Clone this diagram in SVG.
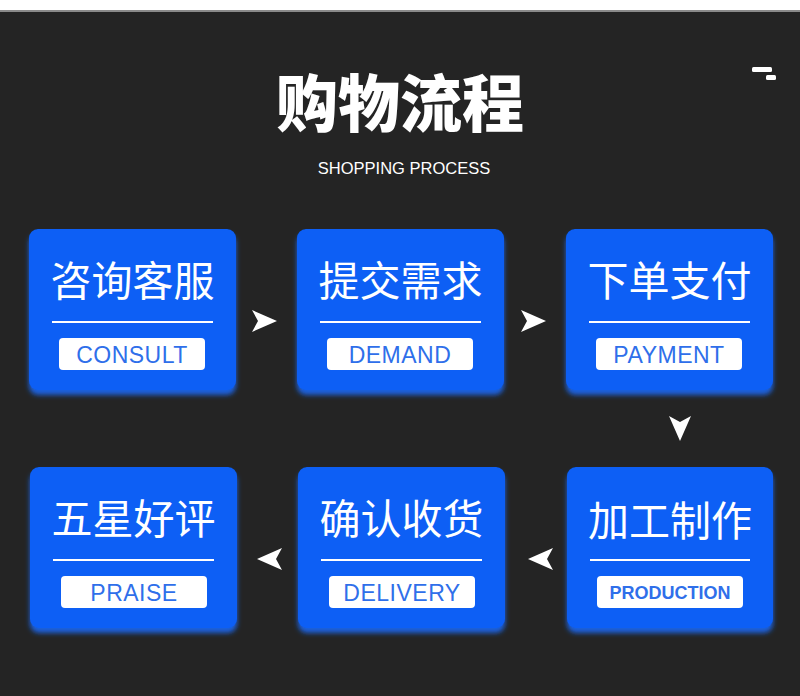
<svg xmlns="http://www.w3.org/2000/svg" width="800" height="696" viewBox="0 0 800 696">
  <defs>
    <filter id="glow" x="-10%" y="-10%" width="120%" height="130%">
      <feGaussianBlur in="SourceAlpha" stdDeviation="2.5"/>
      <feOffset dy="5" result="b"/>
      <feFlood flood-color="#1a6cff" flood-opacity="0.85"/>
      <feComposite in2="b" operator="in"/>
      <feMerge><feMergeNode/><feMergeNode in="SourceGraphic"/></feMerge>
    </filter>
    <polygon id="arrowR" points="-13,-11 12,0 -13,11 -7,0" fill="#ffffff"/>
  </defs>
  <style>
    .box { fill: #0a5ef5; }
    .cn { font-family: "Noto Sans CJK SC", sans-serif; font-size: 41px; fill: #ffffff; text-anchor: middle; }
    .rule { stroke: #ffffff; stroke-width: 2; }
    .pill { fill: #ffffff; }
    .en { font-family: "Liberation Sans", Arial, sans-serif; font-size: 23px; letter-spacing: 0.5px; fill: #2f6fea; text-anchor: middle; }
    .arrow { fill: #ffffff; }
  </style>
  <rect x="0" y="0" width="800" height="696" fill="#242424"/>
  <rect x="0" y="0" width="800" height="10" fill="#ffffff"/>
  <rect x="0" y="10" width="800" height="2" fill="#8a8a8a"/>

  <g id="header">
    <text x="400" y="127" font-family="'Noto Sans CJK SC', sans-serif" font-size="62" font-weight="900" fill="#ffffff" text-anchor="middle">购物流程</text>
    <text x="404" y="174" font-family="'Liberation Sans', Arial, sans-serif" font-size="16.5" fill="#ffffff" text-anchor="middle">SHOPPING PROCESS</text>
    <rect x="752" y="67" width="20" height="5" rx="1.5" fill="#ffffff"/>
    <rect x="766" y="75" width="10" height="5" rx="1.5" fill="#ffffff"/>
  </g>

  <g id="node-consult" transform="translate(29,229)">
    <rect class="box" width="207" height="161" rx="9" filter="url(#glow)"/>
    <text class="cn" x="103.5" y="67">咨询客服</text>
    <line class="rule" x1="23" y1="93" x2="184" y2="93"/>
    <rect class="pill" x="30" y="109" width="146" height="32" rx="4"/>
    <text class="en" x="103" y="134">CONSULT</text>
  </g>

  <g id="node-demand" transform="translate(297,229)">
    <rect class="box" width="207" height="161" rx="9" filter="url(#glow)"/>
    <text class="cn" x="103.5" y="67">提交需求</text>
    <line class="rule" x1="23" y1="93" x2="184" y2="93"/>
    <rect class="pill" x="30" y="109" width="146" height="32" rx="4"/>
    <text class="en" x="103" y="134">DEMAND</text>
  </g>

  <g id="node-payment" transform="translate(566,229)">
    <rect class="box" width="207" height="161" rx="9" filter="url(#glow)"/>
    <text class="cn" x="103.5" y="67">下单支付</text>
    <line class="rule" x1="23" y1="93" x2="184" y2="93"/>
    <rect class="pill" x="30" y="109" width="146" height="32" rx="4"/>
    <text class="en" x="103" y="134">PAYMENT</text>
  </g>

  <g id="node-production" transform="translate(567,467)">
    <rect class="box" width="206" height="161" rx="9" filter="url(#glow)"/>
    <text class="cn" x="103" y="69">加工制作</text>
    <line class="rule" x1="23" y1="93" x2="183" y2="93"/>
    <rect class="pill" x="30" y="109" width="146" height="32" rx="4"/>
    <text class="en" x="103" y="132" style="font-size:18px;font-weight:bold;letter-spacing:0">PRODUCTION</text>
  </g>

  <g id="node-delivery" transform="translate(298,467)">
    <rect class="box" width="207" height="161" rx="9" filter="url(#glow)"/>
    <text class="cn" x="103.5" y="67">确认收货</text>
    <line class="rule" x1="23" y1="93" x2="184" y2="93"/>
    <rect class="pill" x="31" y="109" width="146" height="32" rx="4"/>
    <text class="en" x="104" y="134">DELIVERY</text>
  </g>

  <g id="node-praise" transform="translate(30,467)">
    <rect class="box" width="207" height="161" rx="9" filter="url(#glow)"/>
    <text class="cn" x="103.5" y="67">五星好评</text>
    <line class="rule" x1="23" y1="93" x2="184" y2="93"/>
    <rect class="pill" x="31" y="109" width="146" height="32" rx="4"/>
    <text class="en" x="104" y="134">PRAISE</text>
  </g>

  <g id="connectors">
    <use href="#arrowR" transform="translate(265,321)"/>
    <use href="#arrowR" transform="translate(534,321)"/>
    <use href="#arrowR" transform="translate(680,429) rotate(90)"/>
    <use href="#arrowR" transform="translate(540,559) rotate(180)"/>
    <use href="#arrowR" transform="translate(269,559) rotate(180)"/>
  </g>
</svg>
